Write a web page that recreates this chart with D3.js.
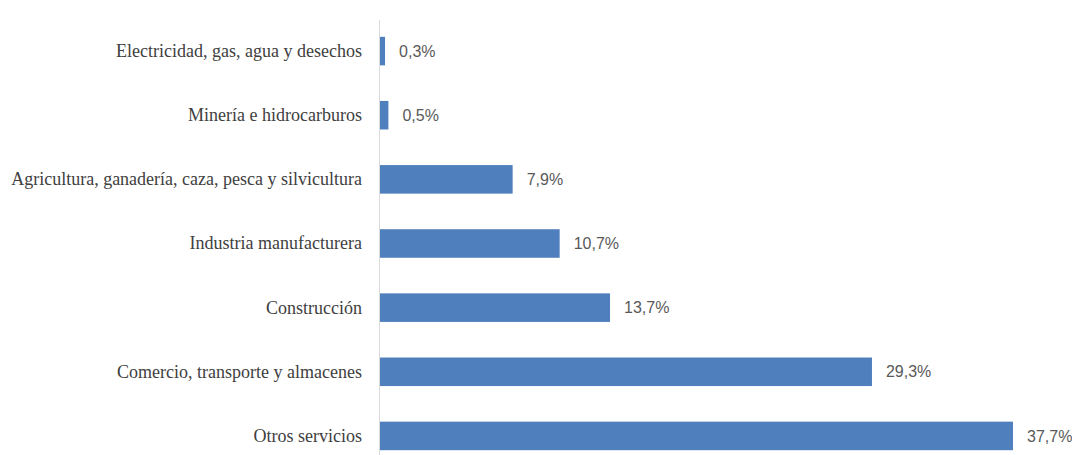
<!DOCTYPE html>
<html>
<head>
<meta charset="utf-8">
<script src="https://cdn.jsdelivr.net/npm/d3@7/dist/d3.min.js"></script>
<style>
html,body{margin:0;padding:0;background:#fff;}
svg{display:block;}
</style>
</head>
<body>
<svg id="chart" width="1072" height="455"></svg>
<script>
const categories = [
  "Electricidad, gas, agua y desechos",
  "Minería e hidrocarburos",
  "Agricultura, ganadería, caza, pesca y silvicultura",
  "Industria manufacturera",
  "Construcción",
  "Comercio, transporte y almacenes",
  "Otros servicios"
];
const values = [0.3, 0.5, 7.9, 10.7, 13.7, 29.3, 37.7];
const valueLabels = ["0,3%", "0,5%", "7,9%", "10,7%", "13,7%", "29,3%", "37,7%"];

const svg = d3.select("#chart");
const x0 = 380;
const x = d3.scaleLinear().domain([0, 37.7]).range([x0, 1013]);
const y = d3.scaleBand().domain(categories).range([19, 468]).paddingInner(0.555).paddingOuter(0.2775);

svg.selectAll("rect.bar").data(categories).join("rect")
  .attr("class", "bar")
  .attr("x", x(0))
  .attr("y", d => y(d))
  .attr("width", (d, i) => x(values[i]) - x(0))
  .attr("height", y.bandwidth())
  .attr("fill", "#4f7fbd");

svg.append("line")
  .attr("x1", x0 - 0.5).attr("x2", x0 - 0.5)
  .attr("y1", 20).attr("y2", 455)
  .attr("stroke", "#d9d9d9").attr("stroke-width", 1);

svg.selectAll("text.cat").data(categories).join("text")
  .attr("class", "cat")
  .attr("x", 362)
  .attr("y", d => y(d) + y.bandwidth() / 2)
  .attr("dy", "0.33em")
  .attr("text-anchor", "end")
  .attr("font-family", "'Liberation Serif', 'DejaVu Serif', serif")
  .attr("font-size", 18)
  .attr("fill", "#404040")
  .text(d => d);

svg.selectAll("text.val").data(categories).join("text")
  .attr("class", "val")
  .attr("x", (d, i) => x(values[i]) + 14)
  .attr("y", d => y(d) + y.bandwidth() / 2)
  .attr("dy", "0.35em")
  .attr("font-family", "'Liberation Sans', Arial, sans-serif")
  .attr("font-size", 16)
  .attr("fill", "#595959")
  .text((d, i) => valueLabels[i]);
</script>
</body>
</html>
